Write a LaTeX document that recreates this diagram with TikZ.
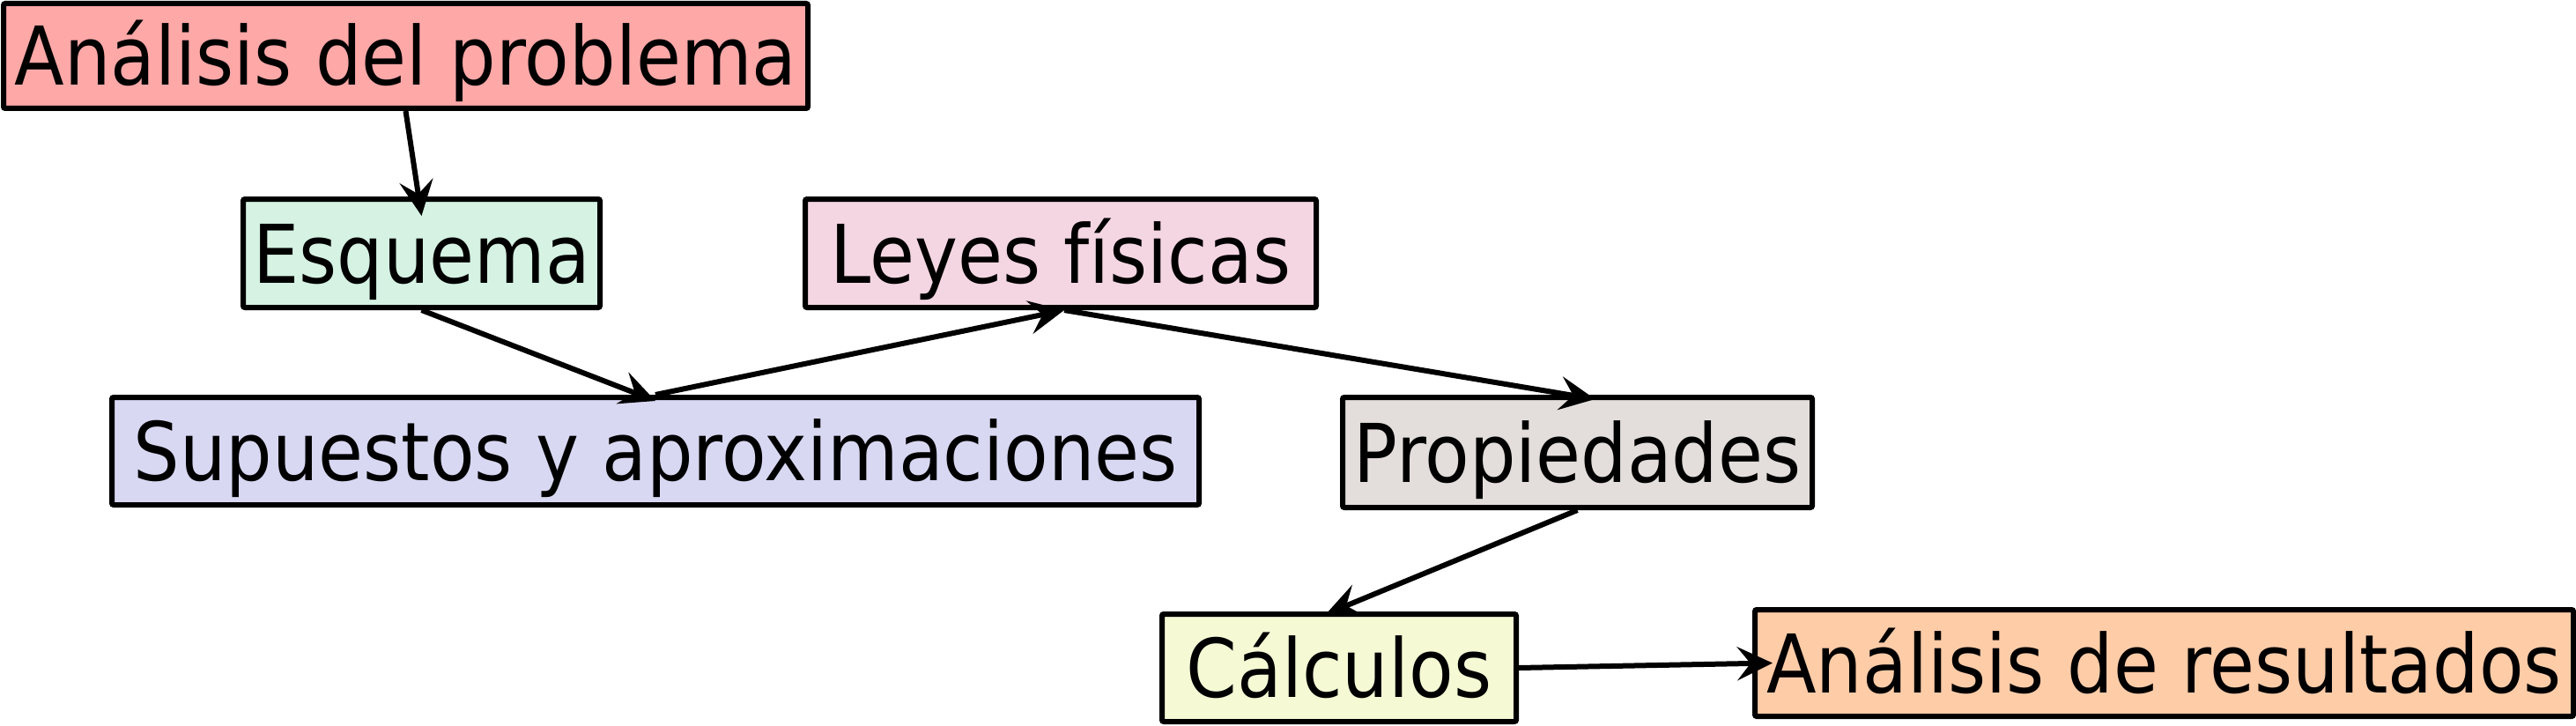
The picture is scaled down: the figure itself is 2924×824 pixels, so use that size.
\documentclass[tikz,border=0pt]{standalone}
\usepackage{fontspec}
\setmainfont{DejaVu Sans}[FakeStretch=0.9]
\usetikzlibrary{arrows.meta}
\definecolor{cAna}{HTML}{FFA8A8}
\definecolor{cEsq}{HTML}{D5F2E3}
\definecolor{cLey}{HTML}{F4D6E2}
\definecolor{cSup}{HTML}{D8D8F3}
\definecolor{cPro}{HTML}{E3DEDB}
\definecolor{cCal}{HTML}{F5FAD5}
\definecolor{cRes}{HTML}{FFCCA8}
\tikzset{
  box/.style={draw=black, line width=6pt, rounded corners=2pt, inner sep=0pt,
    text height=67pt, text depth=0pt, align=center,
    font=\fontsize{92}{110}\selectfont},
  conn/.style={line width=6pt, -{Stealth[length=40pt,width=38pt,inset=15pt]}}
}
\begin{document}
\begin{tikzpicture}[x=1pt,y=-1pt]
\useasboundingbox (0,0) rectangle (2924,824);
\node[box, fill=cAna, minimum width=913pt, minimum height=119pt] (ana) at (460.5,63.5) {Análisis del problema};
\node[box, fill=cEsq, minimum width=405pt, minimum height=123pt] (esq) at (478.5,287.5) {Esquema};
\node[box, fill=cLey, minimum width=580pt, minimum height=123pt] (ley) at (1204,287.5) {Leyes físicas};
\node[box, fill=cSup, minimum width=1234pt, minimum height=122pt] (sup) at (744,512) {Supuestos y aproximaciones};
\node[box, fill=cPro, minimum width=533pt, minimum height=125pt] (pro) at (1790.5,513.5) {Propiedades};
\node[box, fill=cCal, minimum width=402pt, minimum height=122pt] (cal) at (1520,758) {Cálculos};
\node[box, fill=cRes, minimum width=929pt, minimum height=121pt] (res) at (2456.5,752.5) {Análisis de resultados};

\draw[conn] (ana.south) -- ([yshift=-22pt]esq.north);
\draw[conn] (esq.south) -- ([yshift=-7pt]sup.north);
\draw[conn] (sup.north) -- ([xshift=4pt]ley.south);
\draw[conn] ([xshift=4pt]ley.south) -- ([xshift=20pt,yshift=-5pt]pro.north);
\draw[conn] (pro.south) -- ([xshift=-15pt,yshift=-3pt]cal.north);
\draw[conn] (cal.east) -- ([xshift=23pt]res.west);
\end{tikzpicture}
\end{document}
